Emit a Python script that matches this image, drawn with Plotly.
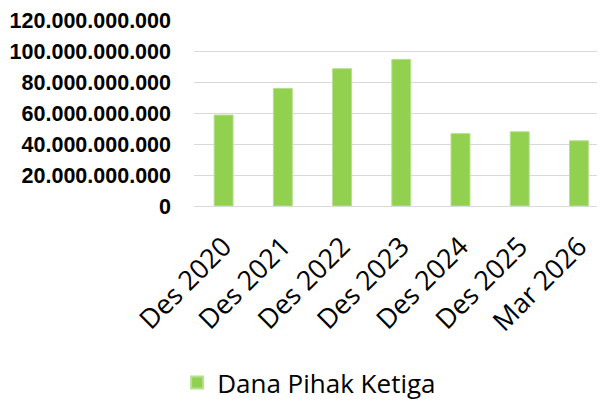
import plotly.graph_objects as go

categories = ["Des 2020", "Des 2021", "Des 2022", "Des 2023", "Des 2024", "Des 2025", "Mar 2026"]
dana_pihak_ketiga = [58700000000, 75900000000, 88600000000, 94600000000, 46700000000, 47900000000, 42100000000]
y_ticks = [0, 20000000000, 40000000000, 60000000000, 80000000000, 100000000000, 120000000000]

fig = go.Figure()
fig.add_trace(go.Bar(
    x=categories,
    y=dana_pihak_ketiga,
    name="Dana Pihak Ketiga",
    marker=dict(color="#92d050", line=dict(color="#b8e08f", width=1)),
    width=0.32,
    showlegend=True,
))

fig.update_layout(
    width=597, height=393,
    margin=dict(l=186, r=0, t=12, b=195, autoexpand=False),
    paper_bgcolor="white", plot_bgcolor="white",
    separators=",.",
    font=dict(family="Liberation Sans, Arial, sans-serif", color="black"),
    showlegend=True,
    legend=dict(orientation="h", x=-0.041, xanchor="left", y=-0.95, yanchor="middle",
                font=dict(size=26, family="Open Sans, sans-serif"), itemsizing="constant"),
)
fig.update_xaxes(
    type="category", range=[-0.5, 6.44], tickangle=-45, automargin=False,
    tickfont=dict(size=27, family="Open Sans, sans-serif"),
    showline=True, linecolor="#d9d9d9", linewidth=1, ticks="", ticklabelstandoff=13,
)
fig.update_yaxes(
    range=[0, 120000000000], tickvals=y_ticks, tickformat=",d", automargin=False,
    tickfont=dict(size=21.5, family="Liberation Sans, Arial, sans-serif", weight="bold"),
    showgrid=True, gridcolor="#d9d9d9", gridwidth=1, zeroline=False,
    ticks="", ticklabelstandoff=22, ticklabeloverflow="allow",
)

fig.write_html("out.html")
